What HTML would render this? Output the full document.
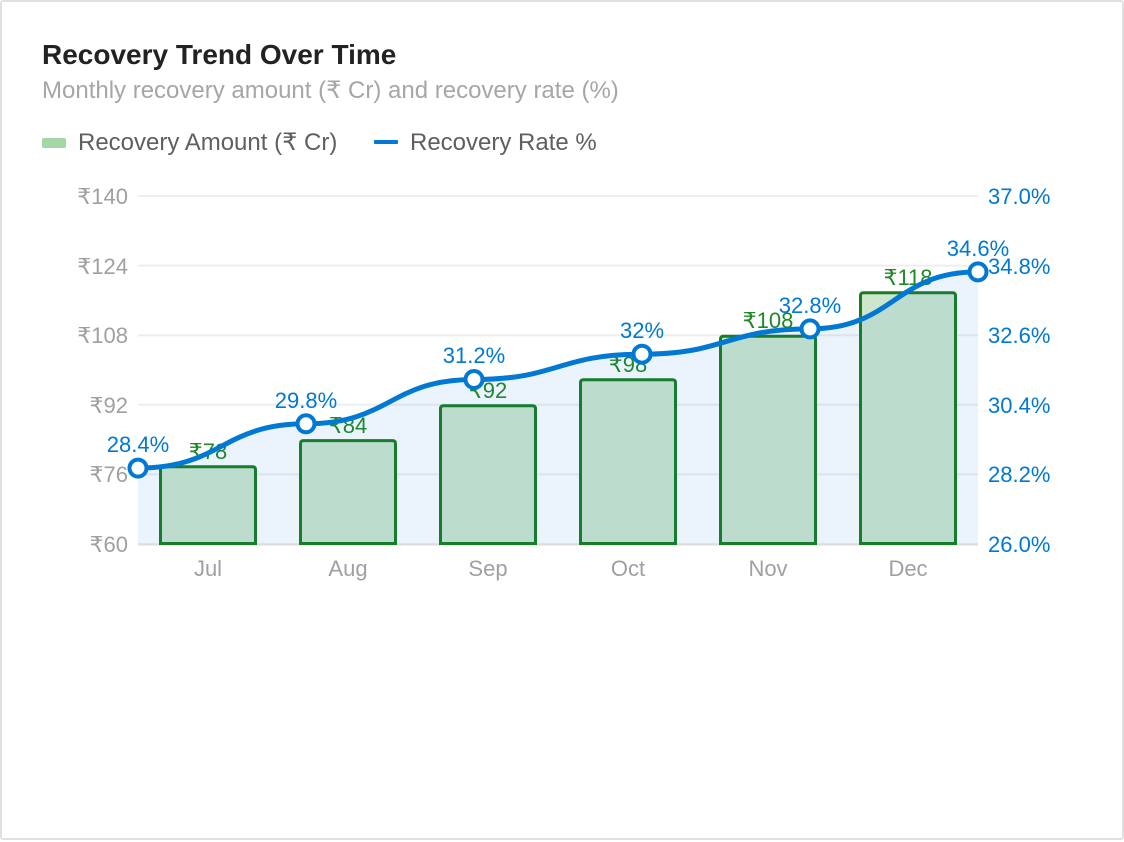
<!DOCTYPE html>
<html>
<head>
<meta charset="utf-8">
<style>
  html,body{margin:0;padding:0;background:#fff;}
  body{width:1124px;height:842px;position:relative;overflow:hidden;font-family:"Liberation Sans","DejaVu Sans",sans-serif;}
  .card{position:absolute;left:0;top:0;width:1124px;height:840px;box-sizing:border-box;border:2px solid #e0e0e0;border-radius:3px;}
  svg{position:absolute;left:0;top:0;}
  text{font-family:"Liberation Sans","DejaVu Sans",sans-serif;}
</style>
</head>
<body>
<div class="card"></div>
<svg width="1124" height="842" viewBox="0 0 1124 842" xmlns="http://www.w3.org/2000/svg">
  <!-- Title -->
  <text x="42" y="64" font-size="28" font-weight="bold" fill="#222">Recovery Trend Over Time</text>
  <text x="42" y="98" font-size="24" fill="#a6a6a6">Monthly recovery amount (₹ Cr) and recovery rate (%)</text>

  <!-- Legend -->
  <rect x="42" y="138" width="24" height="10" rx="2" fill="#a5d6a7"/>
  <text x="78" y="150" font-size="24" fill="#5f5f5f">Recovery Amount (₹ Cr)</text>
  <rect x="374" y="140" width="24" height="4" rx="1" fill="#0078d4"/>
  <text x="410" y="150" font-size="24" fill="#5f5f5f">Recovery Rate %</text>

  <!-- Grid lines -->
  <g stroke="#eeeeee" stroke-width="2">
    <line x1="138" y1="196" x2="978" y2="196"/>
    <line x1="138" y1="265.6" x2="978" y2="265.6"/>
    <line x1="138" y1="335.2" x2="978" y2="335.2"/>
    <line x1="138" y1="404.8" x2="978" y2="404.8"/>
    <line x1="138" y1="474.4" x2="978" y2="474.4"/>
  </g>
  <line x1="138" y1="544.5" x2="978" y2="544.5" stroke="#dcdcdc" stroke-width="2"/>

  <!-- Left axis labels -->
  <g font-size="22" fill="#a0a0a0" text-anchor="end">
    <text x="128" y="204">₹140</text>
    <text x="128" y="274">₹124</text>
    <text x="128" y="343">₹108</text>
    <text x="128" y="413">₹92</text>
    <text x="128" y="482">₹76</text>
    <text x="128" y="552">₹60</text>
  </g>
  <!-- Right axis labels -->
  <g font-size="22" fill="#0078d4" text-anchor="start">
    <text x="988" y="204">37.0%</text>
    <text x="988" y="274">34.8%</text>
    <text x="988" y="343">32.6%</text>
    <text x="988" y="413">30.4%</text>
    <text x="988" y="482">28.2%</text>
    <text x="988" y="552">26.0%</text>
  </g>
  <!-- X labels -->
  <g font-size="22" fill="#a0a0a0" text-anchor="middle">
    <text x="208" y="576">Jul</text>
    <text x="348" y="576">Aug</text>
    <text x="488" y="576">Sep</text>
    <text x="628" y="576">Oct</text>
    <text x="768" y="576">Nov</text>
    <text x="908" y="576">Dec</text>
  </g>

  <!-- Bars -->
  <g fill="#cde6cc" stroke="#1b7d22" stroke-width="3">
    <path d="M160.5,543.5 L160.5,469.7 Q160.5,466.7 163.5,466.7 L252.5,466.7 Q255.5,466.7 255.5,469.7 L255.5,543.5 Z"/>
    <path d="M300.5,543.5 L300.5,443.6 Q300.5,440.6 303.5,440.6 L392.5,440.6 Q395.5,440.6 395.5,443.6 L395.5,543.5 Z"/>
    <path d="M440.5,543.5 L440.5,408.8 Q440.5,405.8 443.5,405.8 L532.5,405.8 Q535.5,405.8 535.5,408.8 L535.5,543.5 Z"/>
    <path d="M580.5,543.5 L580.5,382.7 Q580.5,379.7 583.5,379.7 L672.5,379.7 Q675.5,379.7 675.5,382.7 L675.5,543.5 Z"/>
    <path d="M720.5,543.5 L720.5,339.2 Q720.5,336.2 723.5,336.2 L812.5,336.2 Q815.5,336.2 815.5,339.2 L815.5,543.5 Z"/>
    <path d="M860.5,543.5 L860.5,295.7 Q860.5,292.7 863.5,292.7 L952.5,292.7 Q955.5,292.7 955.5,295.7 L955.5,543.5 Z"/>
  </g>
  <!-- Bar labels -->
  <g font-size="22" fill="#1f8a24" text-anchor="middle">
    <text x="208" y="459">₹78</text>
    <text x="348" y="433">₹84</text>
    <text x="488" y="398">₹92</text>
    <text x="628" y="372">₹98</text>
    <text x="768" y="328">₹108</text>
    <text x="908" y="285">₹118</text>
  </g>

  <!-- Area -->
  <path d="M138,468.1 C222,468.1 222,423.8 306,423.8 C390,423.8 390,379.5 474,379.5 C558,379.5 558,354.2 642,354.2 C726,354.2 726,328.9 810,328.9 C894,328.9 894,271.9 978,271.9 L978,544 L138,544 Z" fill="rgba(0,120,212,0.08)"/>
  <!-- Line -->
  <path d="M138,468.1 C222,468.1 222,423.8 306,423.8 C390,423.8 390,379.5 474,379.5 C558,379.5 558,354.2 642,354.2 C726,354.2 726,328.9 810,328.9 C894,328.9 894,271.9 978,271.9" fill="none" stroke="#0078d4" stroke-width="5" stroke-linecap="round"/>
  <!-- Markers -->
  <g fill="#fff" stroke="#0078d4" stroke-width="4">
    <circle cx="138" cy="468.1" r="8.5"/>
    <circle cx="306" cy="423.8" r="8.5"/>
    <circle cx="474" cy="379.5" r="8.5"/>
    <circle cx="642" cy="354.2" r="8.5"/>
    <circle cx="810" cy="328.9" r="8.5"/>
    <circle cx="978" cy="271.9" r="8.5"/>
  </g>
  <!-- Percent labels -->
  <g font-size="22" fill="#0078d4" text-anchor="middle">
    <text x="138" y="452">28.4%</text>
    <text x="306" y="408">29.8%</text>
    <text x="474" y="363">31.2%</text>
    <text x="642" y="338">32%</text>
    <text x="810" y="313">32.8%</text>
    <text x="978" y="256">34.6%</text>
  </g>
</svg>
</body>
</html>
